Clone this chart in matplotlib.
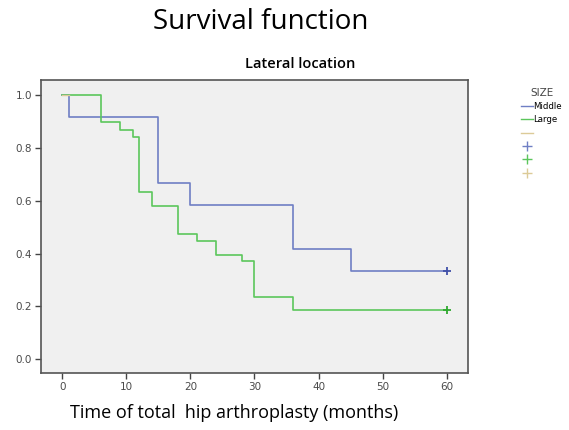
import matplotlib.pyplot as plt
from matplotlib.lines import Line2D

# survival curves
middle_t = [0, 1, 15, 20, 36, 45, 60]
middle_s = [1.0, 0.917, 0.667, 0.583, 0.417, 0.333, 0.333]

large_t = [0, 6, 9, 11, 12, 14, 18, 21, 24, 28, 30, 36, 60]
large_s = [1.0, 0.897, 0.868, 0.843, 0.632, 0.579, 0.474, 0.449, 0.396, 0.370, 0.237, 0.184, 0.184]

small_t = [0, 1]
small_s = [1.0, 1.0]

blue = "#6f7fc4"
green = "#5cc65c"
tan = "#dccb98"

fig = plt.figure(figsize=(5.69, 4.30), dpi=100)
ax = fig.add_axes([0.072, 0.1326, 0.7505, 0.6814])
ax.set_facecolor("#f0f0f0")

ax.step(middle_t, middle_s, where="post", color=blue, lw=1.2)
ax.step(large_t, large_s, where="post", color=green, lw=1.2)
ax.step(small_t, small_s, where="post", color=tan, lw=1.0)
ax.plot(middle_t[-1], middle_s[-1], "+", color="#4050a8", ms=6, mew=1.3)
ax.plot(large_t[-1], large_s[-1], "+", color="#2fa82f", ms=6, mew=1.3)

ax.set_xlim(-3.3, 63.3)
ax.set_ylim(-0.053, 1.058)
ax.set_xticks([0, 10, 20, 30, 40, 50, 60])
ax.set_yticks([0.0, 0.2, 0.4, 0.6, 0.8, 1.0])
ax.set_yticklabels(["0.0", "0.2", "0.4", "0.6", "0.8", "1.0"])
ax.tick_params(labelsize=7.5, labelcolor="#4a4a4a", color="#444444",
               length=4, width=1, pad=2.5)
for s in ax.spines.values():
    s.set_color("#555555")
    s.set_linewidth(1.2)

fig.text(0.411, 0.040, "Time of total  hip arthroplasty (months)",
         fontsize=13, family="Open Sans", ha="center", va="center")
fig.text(0.527, 0.851, "Lateral location", fontsize=10.5, family="Open Sans",
         fontweight="semibold", ha="center", va="center")
fig.text(0.459, 0.949, "Survival function", fontsize=20,
         family="Open Sans", ha="center", va="center")

handles = [
    Line2D([], [], color=blue, lw=1),
    Line2D([], [], color=green, lw=1),
    Line2D([], [], color=tan, lw=1),
    Line2D([], [], color=blue, lw=0, marker="+", ms=7),
    Line2D([], [], color=green, lw=0, marker="+", ms=7),
    Line2D([], [], color=tan, lw=0, marker="+", ms=7),
]
labels = ["Middle", "Large", "", "", "", ""]
leg = fig.legend(handles, labels, title="SIZE", loc="upper left",
                 bbox_to_anchor=(0.908, 0.806), frameon=False,
                 fontsize=6.2, title_fontsize=7.5, handlelength=1.4,
                 handletextpad=0.05, labelspacing=0.5, borderpad=0)
leg.get_title().set_color("#444444")

fig.savefig("out.png", dpi=100)
